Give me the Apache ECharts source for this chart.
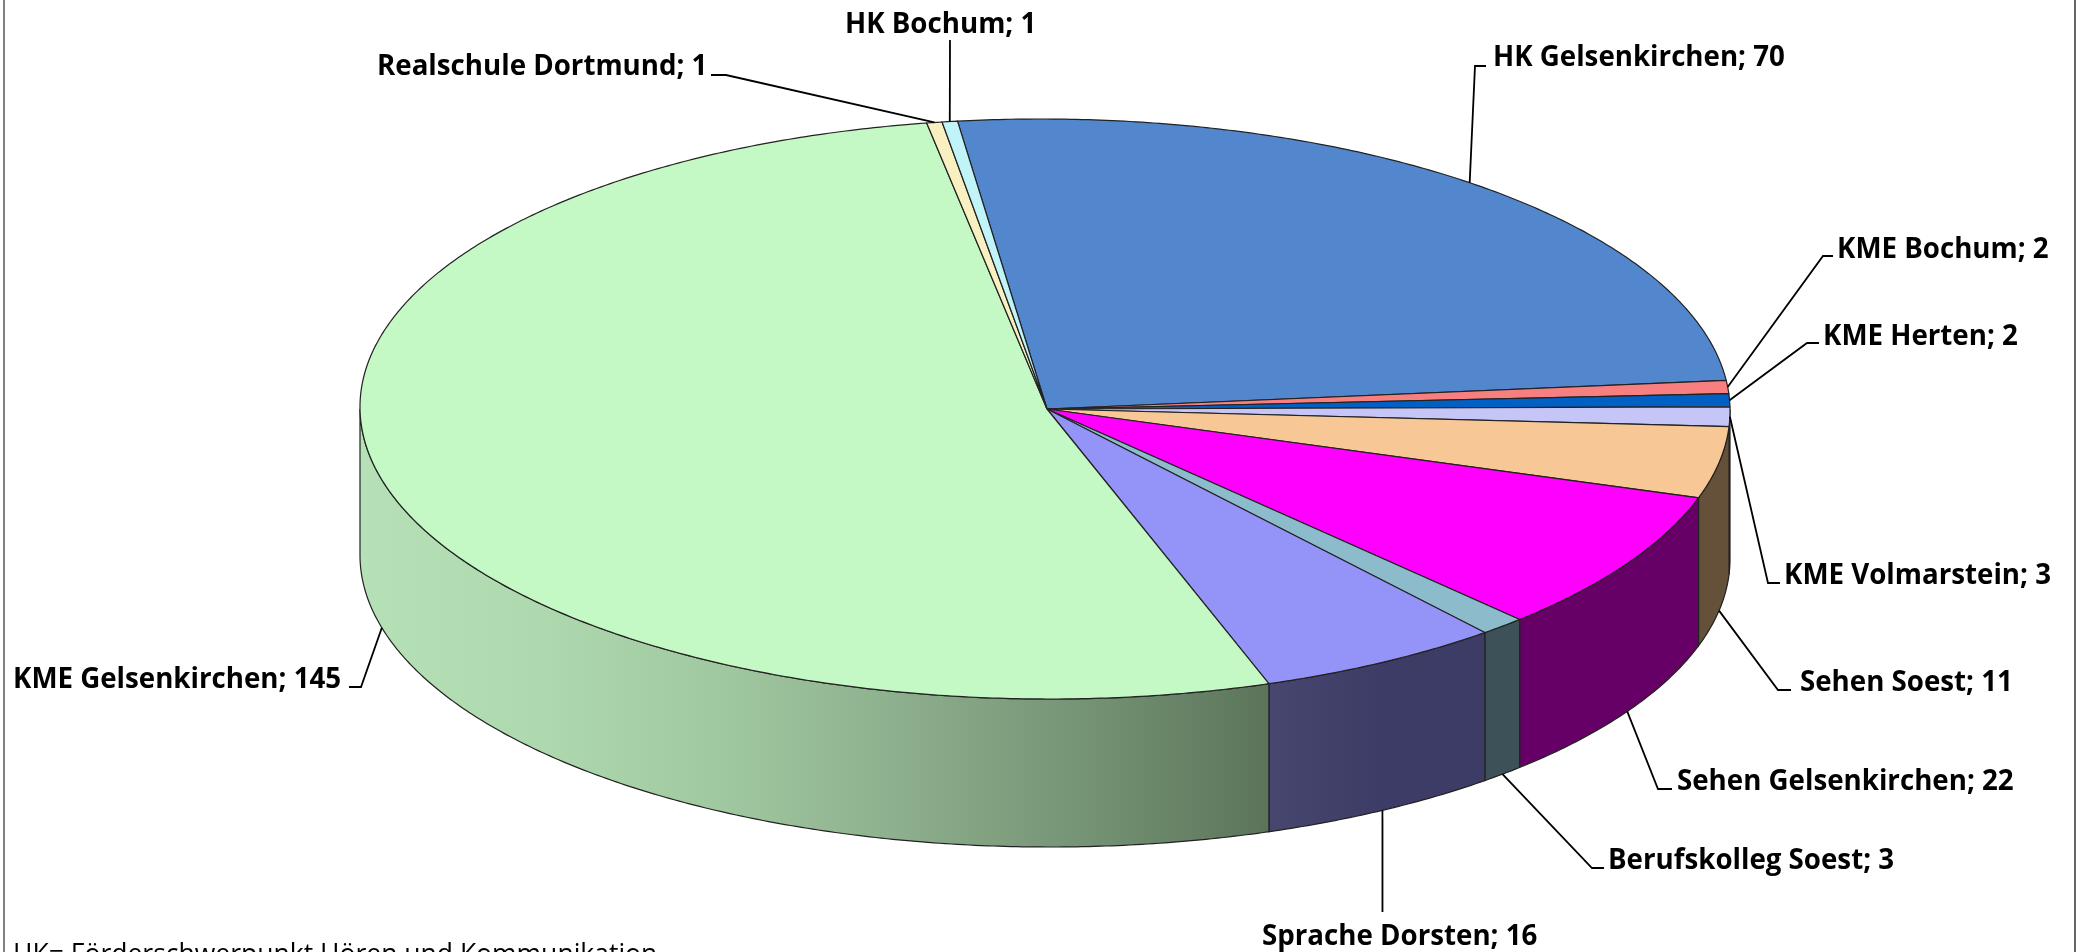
<!DOCTYPE html>
<html>
<head>
<meta charset="utf-8">
<title>Förderschwerpunkte</title>
<style>
  html, body { margin: 0; padding: 0; background: #fff; overflow: hidden; }
  #main { width: 2077px; height: 952px; }
</style>
<script src="https://cdn.jsdelivr.net/npm/echarts@6/dist/echarts.min.js"></script>
</head>
<body>
<div id="main"></div>
<script>
// data
const names = ['HK Gelsenkirchen', 'KME Bochum', 'KME Herten', 'KME Volmarstein', 'Sehen Soest', 'Sehen Gelsenkirchen',
  'Berufskolleg Soest', 'Sprache Dorsten', 'KME Gelsenkirchen', 'Realschule Dortmund', 'HK Bochum']
const values = [70, 2, 2, 3, 11, 22, 3, 16, 145, 1, 1]
const footnote = 'HK= Förderschwerpunkt Hören und Kommunikation'

// styles
const topColors = ['#5286cd', '#f87f7f', '#0060c4', '#c5c5f8', '#f7c795', '#ff00ff', '#8cbccc', '#9494f8', '#c4f8c4', '#f8f0c0', '#c0f4f8']
const sideColors = ['#31507b', '#954c4c', '#003a76', '#767695', '#65503a', '#660066', '#3c5258', '#3d3c66', '#76957a', '#959073', '#739295']

// pie geometry (3d look is done by hand, echarts has no tilted pie)
const cx = 1045, cy = 409, rx = 685, ry = 290, depth = 148
const apexX = 1047
const startDeg = -6.95
const skew = 0.016 // the original's ellipse leans a little

// label placement: text x, text middle y, elbow of leader line
const labelPos = [
  { x: 1493, y: 58, tick: [1486, 66, 1475, 66] },
  { x: 1837, y: 250, tick: [1833, 256, 1823, 256] },
  { x: 1823, y: 337, tick: [1819, 343, 1807, 343] },
  { x: 1784, y: 576, tick: [1780, 583, 1768, 583], onTop: true },
  { x: 1800, y: 683, tick: [1791, 690, 1778, 690] },
  { x: 1677, y: 782, tick: [1672, 789, 1658, 789] },
  { x: 1608, y: 861, tick: [1604, 868, 1592, 868] },
  { x: 1262, y: 937, tick: [1382.5, 912, 1382.5, 912] },
  { x: 13, y: 680, tick: [349, 687, 361, 687] },
  { x: 377, y: 67, tick: [711, 75, 726, 75] },
  { x: 845, y: 25, tick: [950, 40, 950, 40] }
]

const total = values.reduce((a, b) => a + b, 0)
const slices = []
let acc = startDeg
values.forEach((v) => {
  const span = v / total * 360
  slices.push([acc, acc + span])
  acc += span
})

function ellipsePt(deg, dy) {
  const r = deg * Math.PI / 180
  const yOff = -ry * Math.cos(r)
  return [cx + rx * Math.sin(r) + skew * yOff, cy + yOff + (dy || 0)]
}

function arcPts(a0, a1, dy) {
  const pts = []
  const n = Math.max(2, Math.ceil((a1 - a0) / 0.5))
  for (let i = 0; i <= n; i++) {
    pts.push(ellipsePt(a0 + (a1 - a0) * i / n, dy))
  }
  return pts
}

function sideFill(i) {
  if (i === 8) {
    return new echarts.graphic.LinearGradient(360, 0, 1272, 0, [
      { offset: 0, color: '#b6e1b6' },
      { offset: 0.2, color: '#aed8ae' },
      { offset: 0.4, color: '#a0c8a0' },
      { offset: 0.6, color: '#8cae8c' },
      { offset: 0.8, color: '#749274' },
      { offset: 1, color: '#5b7459' }
    ], true)
  }
  if (i === 7) {
    return new echarts.graphic.LinearGradient(1272, 0, 1490, 0, [
      { offset: 0, color: '#46466f' },
      { offset: 0.5, color: '#3d3c66' },
      { offset: 1, color: '#3d3c66' }
    ], true)
  }
  return sideColors[i]
}

function renderSide(params, api) {
  const i = api.value(0)
  const a0 = Math.max(slices[i][0], 90)
  const a1 = Math.min(slices[i][1], 270)
  if (a1 <= a0) return null
  const pts = arcPts(a0, a1, 0).concat(arcPts(a0, a1, depth).reverse())
  return {
    type: 'polygon',
    shape: { points: pts },
    style: { fill: sideFill(i), stroke: '#222', lineWidth: 1.2 }
  }
}

function renderTop(params, api) {
  const i = api.value(0)
  const pts = [[apexX, cy]].concat(arcPts(slices[i][0], slices[i][1], 0))
  return {
    type: 'polygon',
    shape: { points: pts },
    style: { fill: topColors[i], stroke: '#222', lineWidth: 1.2 }
  }
}

function renderLabel(params, api) {
  const i = api.value(0)
  const pos = labelPos[i]
  const mid = (slices[i][0] + slices[i][1]) / 2
  const norm = (mid + 360) % 360
  const onSide = norm > 90 && norm < 270 && !pos.onTop
  const anchor = ellipsePt(mid, onSide ? depth : 0)
  const t = pos.tick
  return {
    type: 'group',
    children: [
      {
        type: 'polyline',
        shape: { points: [anchor, [t[2], t[3]], [t[0], t[1]]] },
        style: { fill: 'none', stroke: '#000', lineWidth: 1.8 }
      },
      {
        type: 'text',
        style: {
          x: pos.x,
          y: pos.y,
          text: names[i] + '; ' + api.value(1),
          fill: '#000',
          font: 'bold 27.7px "Open Sans"',
          textAlign: 'left',
          textVerticalAlign: 'middle'
        }
      }
    ]
  }
}

const chart = echarts.init(document.getElementById('main'), null, { renderer: 'canvas' })
const seriesData = values.map((v, i) => [i, v])

const option = {
  animation: false,
  backgroundColor: '#fff',
  graphic: [
    { type: 'line', shape: { x1: 4, y1: 0, x2: 4, y2: 952 }, style: { stroke: '#808080', lineWidth: 2 } },
    { type: 'line', shape: { x1: 2075, y1: 0, x2: 2075, y2: 952 }, style: { stroke: '#333', lineWidth: 1.5 } },
    {
      type: 'text',
      style: { x: 13, y: 955, text: footnote, fill: '#000', font: '26.5px "Open Sans"', textAlign: 'left', textVerticalAlign: 'middle' }
    }
  ],
  series: [
    { type: 'custom', coordinateSystem: 'none', renderItem: renderSide, data: seriesData, silent: true, z: 1 },
    { type: 'custom', coordinateSystem: 'none', renderItem: renderTop, data: seriesData, silent: true, z: 2 },
    { type: 'custom', coordinateSystem: 'none', renderItem: renderLabel, data: seriesData, silent: true, z: 3 }
  ]
}
chart.setOption(option)
</script>
</body>
</html>
